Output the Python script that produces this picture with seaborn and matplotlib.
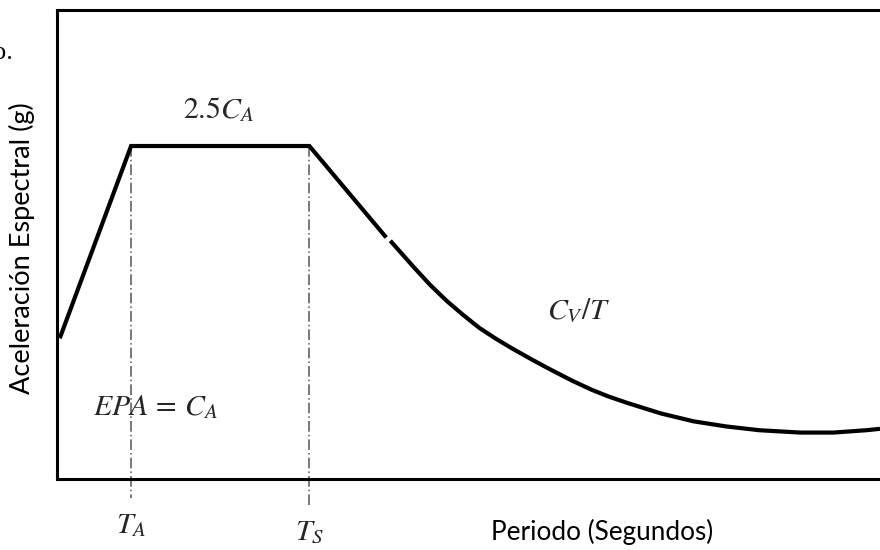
import matplotlib
matplotlib.use("Agg")
import matplotlib.pyplot as plt
import matplotlib.transforms as mtransforms
import pandas as pd
import seaborn as sns

# Design spectrum (schematic): period T in seconds, spectral acceleration Sa in g
T_A = 0.27
T_S = 0.92
plateau_Sa = 0.71

# Rising branch, plateau 2.5*C_A and the straight start of the descent
branch_T = [0.01, T_A, T_S, 1.20]
branch_Sa = [0.30, plateau_Sa, plateau_Sa, 0.515]

# C_V / T decay branch
decay_T = [1.215, 1.30, 1.36, 1.42, 1.48, 1.54, 1.60, 1.66, 1.73, 1.80,
           1.88, 1.95, 2.01, 2.08, 2.20, 2.32, 2.44, 2.56, 2.71, 2.83,
           2.95, 3.00]
decay_Sa = [0.508, 0.452, 0.414, 0.380, 0.350, 0.322, 0.299, 0.278, 0.255,
            0.233, 0.209, 0.190, 0.176, 0.162, 0.140, 0.123, 0.112, 0.104,
            0.099, 0.099, 0.104, 0.107]

marker_T = [T_A, T_S]
marker_labels = [r"$T_A$", r"$T_S$"]

sns.set_theme(style="white")
plt.rcParams["mathtext.fontset"] = "stix"
plt.rcParams["font.family"] = ["Lato", "DejaVu Sans"]

W, H = 880, 550
fig = plt.figure(figsize=(W / 100, H / 100), dpi=100)
ax = fig.add_axes([57 / W, (H - 479) / H, (880 - 57) / W, 469 / H])

branch = pd.DataFrame({"T": branch_T, "Sa": branch_Sa})
decay = pd.DataFrame({"T": decay_T, "Sa": decay_Sa})

sns.lineplot(data=branch, x="T", y="Sa", sort=False, estimator=None,
             color="black", linewidth=3.0, ax=ax,
             solid_joinstyle="miter", solid_capstyle="butt")
sns.lineplot(data=decay, x="T", y="Sa", sort=False, estimator=None,
             color="black", linewidth=3.0, ax=ax,
             solid_joinstyle="round", solid_capstyle="butt")

ax.set_xlim(0, 3.0)
ax.set_ylim(0, 1.0)

# Dash-dot guides from the plateau corners down past the axis
for t, ybot in zip(marker_T, [-0.04, -0.055]):
    ax.plot([t, t], [plateau_Sa, ybot], color="#555555", linewidth=1.1,
            linestyle=(0, (7, 2, 1, 2)), clip_on=False, zorder=1)

# Frame: left, bottom and top only
ax.spines["right"].set_visible(False)
for side in ["left", "bottom", "top"]:
    ax.spines[side].set_color("black")
    ax.spines[side].set_linewidth(2.2)
ax.set_xticks([])
ax.set_yticks([])
ax.set_xlabel("")
ax.set_ylabel("")

math_size = 21.5

# Period markers under the axis
trans = mtransforms.blended_transform_factory(ax.transData, fig.transFigure)
for t, lab, base in zip(marker_T, marker_labels, [533, 540]):
    ax.text(t, 1 - base / H, lab, transform=trans, ha="center",
            va="baseline", fontsize=math_size, clip_on=False)

# Branch annotations
ax.text(0.46, 0.77, r"$2.5C_A$", fontsize=math_size, ha="left", va="baseline")
ax.text(0.131, 0.136, r"$EPA\,=\,C_A$", fontsize=math_size, ha="left",
        va="baseline")
ax.text(1.786, 0.343, r"$C_V/T$", fontsize=math_size, ha="left",
        va="baseline")

# Axis titles
fig.text(602 / W, 1 - 540 / H, "Periodo (Segundos)", ha="center",
         va="baseline", fontsize=18.8, color="black")
fig.text(22 / W, 1 - 248 / H, "Aceleración Espectral (g)", rotation=90,
         ha="center", va="center", fontsize=19.5, color="black")

# Tail of the surrounding caption text
fig.text(13 / W, 1 - 59 / H, "o.", ha="right", va="baseline", fontsize=19,
         family=["Liberation Serif", "DejaVu Serif"], color="black")

fig.savefig("out.png", dpi=100)
